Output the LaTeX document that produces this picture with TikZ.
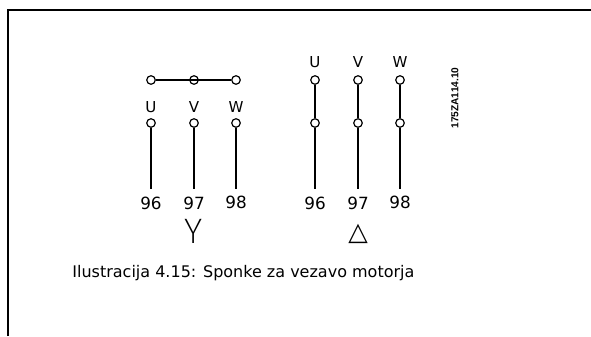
\documentclass[tikz,border=0pt]{standalone}
\usepackage{fontspec}
\setmainfont{DejaVu Sans}
\newfontfamily\codefont{Liberation Sans}
\newfontfamily\thinfont{Fira Sans}[UprightFont=* ExtraLight]
\begin{document}
\begin{tikzpicture}[x=0.75pt, y=-0.75pt, line width=1.1pt,
	term/.style={circle, draw, fill=white, inner sep=0pt, minimum size=6.4pt, line width=0.9pt},
	lbl/.style={font=\fontsize{11.3}{12}\selectfont, inner sep=0pt, anchor=base},
	num/.style={font=\fontsize{12.6}{14}\selectfont, inner sep=0pt, anchor=base}]
	% Definizioni delle colonne
	\def\Yuno{151}
	\def\Ydue{194}
	\def\Ytre{236}
	\def\Duno{315}
	\def\Ddue{358}
	\def\Dtre{400}
	
	\useasboundingbox (0,0) rectangle (591,336);
	
	% --- Cornice ---
	\draw[line width=0.8pt] (8,336) -- (8,10) -- (591,10);
	
	% --- Collegamento a stella ---
	\node[term] (sa) at (\Yuno,80) {};
	\node[term] (sb) at (\Ydue,80) {};
	\node[term] (sc) at (\Ytre,80) {};
	\draw (sa.east) -- (sc.west);
	
	\node[lbl] (su) at (\Yuno,112.3) {U};
	\node[lbl] (sv) at (\Ydue,112.3) {V};
	\node[lbl] (sw) at (\Ytre,112.3) {W};
	
	\node[term] (su1) at (\Yuno,123) {};
	\node[term] (sv1) at (\Ydue,123) {};
	\node[term] (sw1) at (\Ytre,123) {};
	\coordinate (su2) at (\Yuno,189);
	\coordinate (sv2) at (\Ydue,189);
	\coordinate (sw2) at (\Ytre,189);
	\draw (su1) -- (su2);
	\draw (sv1) -- (sv2);
	\draw (sw1) -- (sw2);
	
	\node[num] (s96) at (\Yuno,209.3) {96};
	\node[num] (s97) at (\Ydue,209.3) {97};
	\node[num] (s98) at (\Ytre,208) {98};
	\node[inner sep=0pt, anchor=base, font=\thinfont\fontsize{26.5}{28}\selectfont] (stella) at (\Ydue,243) {Y};
	
	% --- Collegamento a triangolo ---
	\node[lbl] (tu) at (\Duno,67.3) {U};
	\node[lbl] (tv) at (\Ddue,67.3) {V};
	\node[lbl] (tw) at (\Dtre,67.3) {W};
	
	\node[term] (tu1) at (\Duno,80) {};
	\node[term] (tv1) at (\Ddue,80) {};
	\node[term] (tw1) at (\Dtre,80) {};
	\node[term] (tu2) at (\Duno,123) {};
	\node[term] (tv2) at (\Ddue,123) {};
	\node[term] (tw2) at (\Dtre,123) {};
	\coordinate (tu3) at (\Duno,189);
	\coordinate (tv3) at (\Ddue,189);
	\coordinate (tw3) at (\Dtre,189);
	\draw (tu1) -- (tu2) -- (tu3);
	\draw (tv1) -- (tv2) -- (tv3);
	\draw (tw1) -- (tw2) -- (tw3);
	
	\node[num] (t96) at (\Duno,209.3) {96};
	\node[num] (t97) at (\Ddue,209.3) {97};
	\node[num] (t98) at (\Dtre,208) {98};
	\node[inner sep=0pt, anchor=base, font=\fontsize{19}{20}\selectfont] (triangolo) at (\Ddue,240.5) {△};
	
	% --- Codice e didascalia ---
	\node[inner sep=0pt, rotate=90, font=\codefont\bfseries\fontsize{7.6}{8}\selectfont] (codice) at (455,98) {175ZA114.10};
	\node[inner sep=0pt, anchor=base west, font=\fontsize{12}{13}\selectfont] (didascalia) at (71.7,277) {Ilustracija 4.15: Sponke za vezavo motorja};
\end{tikzpicture}
\end{document}
